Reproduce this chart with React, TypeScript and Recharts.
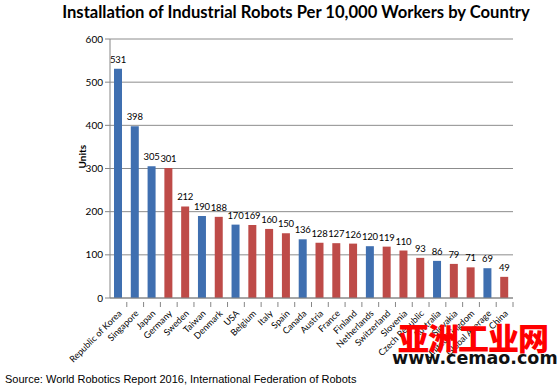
import { BarChart, Bar, XAxis, YAxis, CartesianGrid, Cell, LabelList } from "recharts";

const countries = [
  "Republic of Korea", "Singapore", "Japan", "Germany", "Sweden", "Taiwan", "Denmark", "USA",
  "Belgium", "Italy", "Spain", "Canada", "Austria", "France", "Finland", "Netherlands",
  "Switzerland", "Slovenia", "Czech Republic", "Australia", "Slovakia", "United Kingdom",
  "Global Average", "China",
];
const robots = [531, 398, 305, 301, 212, 190, 188, 170, 169, 160, 150, 136, 128, 127, 126, 120, 119, 110, 93, 86, 79, 71, 69, 49];
const blueCountries = ["Republic of Korea", "Singapore", "Japan", "Taiwan", "USA", "Canada", "Netherlands", "Australia", "Global Average"];
const yTicks = [0, 100, 200, 300, 400, 500, 600];

const data = countries.map((c, i) => ({ country: c, units: robots[i] }));

const BLUE = "#3F6FB0";
const RED = "#BE4B48";
const FONT = "Lato, 'Open Sans', sans-serif";
const BAND = 403 / countries.length;

function CountryTick(props: any) {
  const { x, y, payload } = props;
  return (
    <g>
      <line x1={x + BAND / 2} y1={y - 4} x2={x + BAND / 2} y2={y + 1} stroke="#868686" />
      <text
        x={x + 4}
        y={y + 8}
        textAnchor="end"
        transform={`rotate(-45, ${x + 4}, ${y + 8})`}
        fontSize={9}
        fontFamily={FONT}
        fill="#000"
      >
        {payload.value}
      </text>
    </g>
  );
}

export default function App() {
  return (
    <div style={{ position: "absolute", left: 0, top: 0, width: 560, height: 390, background: "#fff" }}>
      <div
        style={{
          position: "absolute", top: 2, left: 16, width: 560, textAlign: "center",
          fontFamily: FONT, fontWeight: 700, fontSize: 16.6, color: "#000",
        }}
      >
        Installation of Industrial Robots Per 10,000 Workers by Country
      </div>
      <BarChart width={560} height={390} data={data} margin={{ top: 39, right: 47, left: 60, bottom: 0 }} barSize={8}>
        <CartesianGrid vertical={false} stroke="#8c8c8c" />
        <XAxis
          dataKey="country"
          interval={0}
          height={92}
          tickLine={false}
          axisLine={{ stroke: "#868686" }}
          tick={<CountryTick />}
        />
        <YAxis
          domain={[0, 600]}
          ticks={yTicks}
          width={50}
          axisLine={{ stroke: "#868686" }}
          tickLine={{ stroke: "#868686" }}
          tickSize={5}
          tick={{ fontSize: 10, fontFamily: FONT, fill: "#000" }}
          label={{ value: "Units", angle: -90, position: "insideLeft", offset: 22, style: { fontSize: 10, fontWeight: 700, fontFamily: FONT, fill: "#000" } }}
        />
        <Bar dataKey="units" isAnimationActive={false}>
          {data.map((d) => (
            <Cell key={d.country} fill={blueCountries.includes(d.country) ? BLUE : RED} />
          ))}
          <LabelList dataKey="units" position="top" offset={6} style={{ fontSize: 9.5, fontFamily: FONT, fill: "#000", letterSpacing: -0.2 }} />
        </Bar>
      </BarChart>
      <div style={{ position: "absolute", left: 398, top: 314, fontFamily: "'Noto Sans CJK SC', sans-serif", fontWeight: 900, fontSize: 31, color: "#ff0000", letterSpacing: -1 }}>
        亚洲工业网
      </div>
      <div style={{ position: "absolute", left: 392, top: 348, fontFamily: "'DejaVu Sans', sans-serif", fontWeight: 700, fontSize: 17.5, color: "#111" }}>
        www.cemao.com
      </div>
      <div style={{ position: "absolute", left: 5, top: 373, fontFamily: "'Liberation Sans', Arial, sans-serif", fontSize: 11, color: "#000" }}>
        Source: World Robotics Report 2016, International Federation of Robots
      </div>
    </div>
  );
}
